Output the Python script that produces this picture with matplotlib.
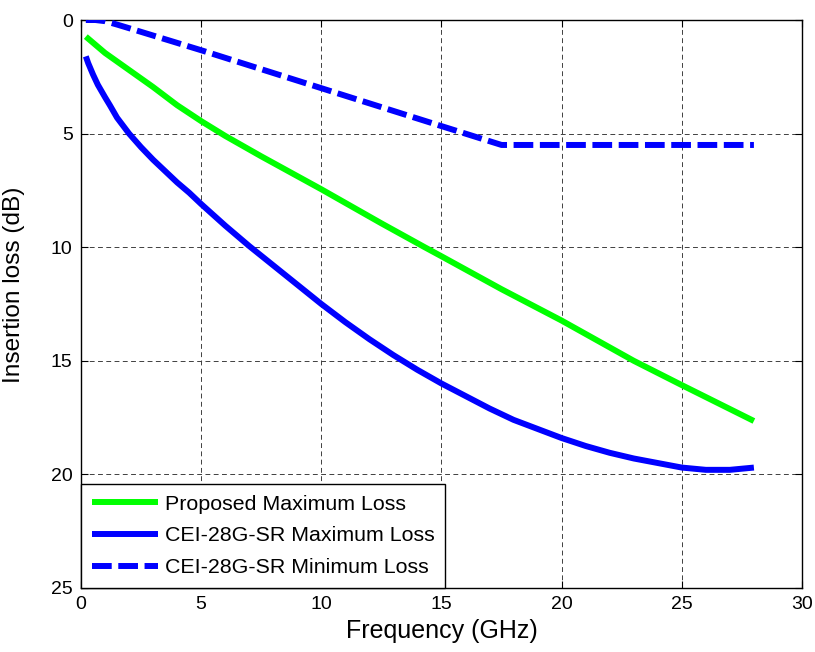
import matplotlib
matplotlib.use("Agg")
import matplotlib.pyplot as plt

plt.rcParams['font.family'] = ['Liberation Sans', 'DejaVu Sans']

# Proposed Maximum Loss (green)
f_prop = [0.2, 0.5, 1.0, 2.0, 3.0, 4.0, 5.0, 6.0, 7.5, 10.0, 12.5, 14.3, 15.0, 17.5, 20.0, 23.0, 25.0, 28.0]
il_prop = [0.73, 1.0, 1.45, 2.2, 2.95, 3.75, 4.45, 5.1, 6.0, 7.45, 8.95, 10.0, 10.4, 11.85, 13.23, 15.0, 16.07, 17.65]

# CEI-28G-SR Maximum Loss (blue solid)
f_max = [0.2, 0.3, 0.5, 0.7, 1.0, 1.2, 1.5, 2.0, 2.5, 3.0, 3.5, 4.0, 4.5, 5.0, 6.0, 7.0, 8.0, 9.0,
         10.0, 11.0, 12.0, 13.0, 14.0, 15.0, 16.0, 17.0, 18.0, 19.0, 20.0, 21.0, 22.0, 23.0, 24.0,
         25.0, 26.0, 27.0, 27.4, 28.0]
il_max = [1.6, 1.9, 2.4, 2.85, 3.4, 3.75, 4.3, 5.0, 5.6, 6.15, 6.65, 7.15, 7.6, 8.1, 9.05, 9.95, 10.8, 11.65,
          12.5, 13.3, 14.05, 14.75, 15.4, 16.0, 16.55, 17.1, 17.6, 18.0, 18.4, 18.75, 19.05, 19.3, 19.5,
          19.7, 19.8, 19.8, 19.76, 19.7]

# CEI-28G-SR Minimum Loss (blue dashed)
f_min = [0.2, 0.6, 1.0, 1.5, 2.0, 5.0, 10.0, 15.0, 17.5, 28.0]
il_min = [0.0, 0.0, 0.05, 0.2, 0.36, 1.33, 3.0, 4.67, 5.5, 5.5]

labels = ['Proposed Maximum Loss', 'CEI-28G-SR Maximum Loss', 'CEI-28G-SR Minimum Loss']
x_ticks = [0, 5, 10, 15, 20, 25, 30]
y_ticks = [0, 5, 10, 15, 20, 25]

fig = plt.figure(figsize=(8.15, 6.52), dpi=100)
ax = fig.add_axes([0.0994, 0.0982, 0.8846, 0.8711])

lw = 4.3
ax.plot(f_prop, il_prop, color='#00FF00', lw=lw, solid_capstyle='butt', label=labels[0], zorder=3)
ax.plot(f_max, il_max, color='#0000FF', lw=lw, solid_capstyle='butt', label=labels[1], zorder=3)
ax.plot(f_min, il_min, color='#0000FF', lw=lw, linestyle=(0, (3.3, 1.1)), dash_capstyle='butt',
        label=labels[2], zorder=3)

ax.set_xlim(0, 30)
ax.set_ylim(25, 0)
ax.set_xticks(x_ticks)
ax.set_yticks(y_ticks)
ax.tick_params(direction='in', length=5, width=0.8, labelsize=14, top=True, right=True, pad=6)
ax.grid(True, color='0.25', linestyle=(0, (5, 3.5)), linewidth=0.7)
for s in ax.spines.values():
    s.set_linewidth(1.0)

ax.set_xlabel('Frequency (GHz)', fontsize=18)
ax.set_ylabel('Insertion loss (dB)', fontsize=17.6)
ax.yaxis.set_label_coords(-0.078, 0.533)

leg = ax.legend(loc='lower left', borderaxespad=0, fontsize=15.4, fancybox=False,
                edgecolor='black', framealpha=1, handlelength=3.08, handletextpad=0.33,
                borderpad=0.5, labelspacing=0.6)
leg.get_frame().set_linewidth(1.0)

fig.savefig('out.png', dpi=100)
